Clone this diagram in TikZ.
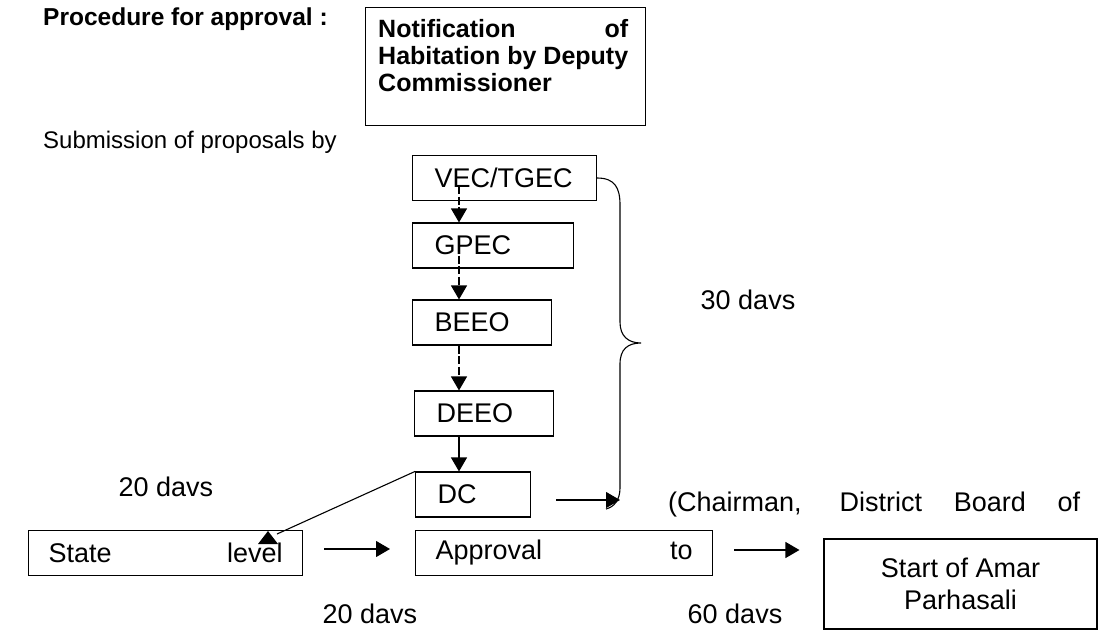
\documentclass[tikz,border=0pt]{standalone}
\usepackage{fontspec}
\setmainfont{Liberation Sans}
\usetikzlibrary{arrows.meta,positioning,calc}

\tikzset{
    box/.style={draw, line width=1.1pt, minimum height=45pt, inner xsep=22pt, inner ysep=0pt,
        align=left, anchor=west, font=\fontsize{27}{32}\selectfont},
    flow/.style={line width=1.1pt, -{Triangle[length=14pt,width=16pt]}},
    broken/.style={dash pattern=on 8pt off 2.5pt},
    lbl/.style={inner sep=0pt, font=\fontsize{27}{32}\selectfont},
}

\begin{document}
\begin{tikzpicture}[x=1pt,y=-1pt]
    \useasboundingbox (0,0) rectangle (1101,632);
    % Heading and side note
    \node[lbl, anchor=west, font=\bfseries\fontsize{24.5}{29}\selectfont] (title) at (43,19) {Procedure for approval :};
    \node[lbl, anchor=west, font=\fontsize{24}{29}\selectfont] (subm) at (43,142) {Submission of proposals by};
    % Notification
    \node[draw, line width=1.1pt, anchor=north west, minimum width=280pt, minimum height=118pt] (notif) at (365,7) {};
    \node[anchor=north west, inner sep=0pt, align=left, font=\bfseries\fontsize{25}{27}\selectfont]
        (notiftxt) at ([shift={(13,12)}]notif.north west)
        {\makebox[250pt][s]{Notification of}\\Habitation by Deputy\\Commissioner};
    % Committees
    \node[box, text width=140pt] (vec) at (412,178) {VEC/TGEC};
    \node[box, text width=117pt] (gpec) at (412,245.5) {GPEC};
    \node[box, text width=95pt] (beeo) at (412,322.5) {BEEO};
    \node[box, text width=95pt] (deeo) at (414,413.5) {DEEO};
    \node[box, text width=71pt] (dc) at (415,494.5) {DC};
    \node[box, inner xsep=20pt] (state) at (28,553) {\makebox[234pt][s]{State level}};
    \node[box, inner xsep=20pt] (appr) at (415,553) {\makebox[257pt][s]{Approval to}};
    \node[draw, line width=1.1pt, minimum width=273pt, minimum height=90pt, align=center,
        font=\fontsize{27}{32}\selectfont] (start) at (960.5,584) {Start of Amar\\Parhasali};
    \node[lbl, anchor=west] (chair) at (668,505) {\makebox[412pt][s]{(Chairman, District Board of}};
    % Days
    \node[lbl] (d30) at (748,300) {30 davs};
    \node[lbl] (d20a) at (166,487) {20 davs};
    \node[lbl] (d20b) at (370,614) {20 davs};
    \node[lbl] (d60) at (735,614) {60 davs};
    % Chain down to DC
    \coordinate (axis) at (459,0);
    \draw[flow, broken] ($(vec.center -| axis)+(0,8)$) -- (gpec.north -| axis);
    \draw[flow, broken] ($(gpec.center -| axis)+(0,10)$) -- (beeo.north -| axis);
    \draw[flow, broken] (beeo.south -| axis) -- (deeo.north -| axis);
    \draw[flow] (deeo.south -| axis) -- (dc.north -| axis);
    % Brace
    \coordinate (brtip) at (641,343);
    \draw[line width=1.1pt] (vec.east) .. controls (615,178) and (620,188) .. (620,205)
        -- (620,322) .. controls (620,336) and (628,343) .. (brtip)
        .. controls (628,343) and (620,349) .. (620,364)
        -- (620,488) .. controls (620,500) and (614,507) .. (606,509);
    \coordinate (dcend) at (620,500);
    \draw[flow, shorten <=25pt] (dc.east |- dcend) -- (dcend);
    % DC to state level
    \coordinate (sttip) at (268,531);
    \draw[line width=1.1pt] (dc.north west) -- ($(sttip)+(9,3)$);
    \fill (sttip) -- ++(-10,13) -- ++(20,0) -- cycle;
    % Final steps
    \draw[flow, shorten <=21pt, shorten >=25pt] ([yshift=4pt]state.east) -- ([yshift=4pt]appr.west);
    \draw[flow, shorten <=21pt, shorten >=24pt] ([yshift=3pt]appr.east) -- ([yshift=3pt]appr.east -| start.west);
\end{tikzpicture}
\end{document}
